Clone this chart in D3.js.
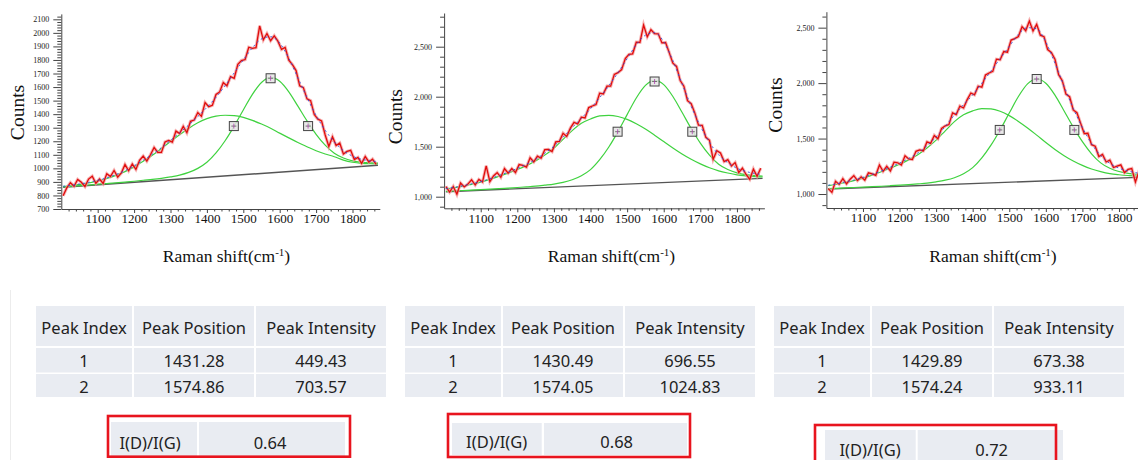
<!DOCTYPE html>
<html>
<head>
<meta charset="utf-8">
<script src="https://cdn.jsdelivr.net/npm/d3@7"></script>
<style>
body { margin: 0; background: #fff; }
svg { display: block; }
</style>
</head>
<body>
<svg id="fig" width="1138" height="460"></svg>
<script>
// ---- raw spectra (Raman shift, counts) ----
const ramanX = [1005,1015,1025,1035,1045,1055,1065,1075,1085,1095,1105,1115,1125,1135,1145,1155,1165,1175,1185,1195,
  1205,1215,1225,1235,1245,1255,1265,1275,1285,1295,1305,1315,1325,1335,1345,1355,1365,1375,1385,1395,
  1405,1415,1425,1435,1445,1455,1465,1475,1485,1495,1505,1515,1525,1535,1545,1555,1565,1575,1585,1595,
  1605,1615,1625,1635,1645,1655,1665,1675,1685,1695,1705,1715,1725,1735,1745,1755,1765,1775,1785,1795,
  1805,1815,1825,1835,1845,1855,1865];

const counts1 = [798,856,894,868,918,897,866,921,942,889,921,888,960,940,984,935,966,1028,982,1032,
  992,1059,1090,1053,1100,1154,1118,1118,1195,1206,1193,1275,1257,1310,1263,1347,1357,1412,1384,1486,
  1455,1465,1545,1564,1633,1609,1677,1665,1768,1796,1803,1894,1885,1891,2052,1948,1995,1942,1978,1939,
  1878,1893,1798,1765,1722,1609,1596,1513,1500,1397,1363,1350,1246,1162,1233,1168,1187,1106,1125,1133,
  1065,1081,1037,1087,1047,1068,1030];

const counts2 = [1102,1047,1102,1024,1136,1098,1126,1169,1118,1172,1147,1308,1150,1208,1241,1194,1282,1236,1281,1241,
  1322,1314,1295,1389,1348,1405,1385,1470,1473,1451,1548,1554,1635,1603,1686,1744,1727,1795,1788,1891,
  1907,1921,2035,2028,2106,2106,2223,2240,2271,2382,2423,2429,2545,2543,2716,2600,2670,2630,2629,2538,
  2542,2441,2335,2303,2161,2105,1960,1930,1836,1716,1714,1594,1564,1374,1459,1438,1352,1370,1308,1341,
  1243,1285,1222,1174,1276,1205,1285];

const counts3 = [1049,1015,1115,1087,1139,1092,1134,1166,1121,1155,1125,1191,1182,1169,1262,1205,1249,1208,1287,1282,
  1262,1344,1316,1311,1385,1398,1389,1470,1457,1528,1498,1592,1615,1626,1732,1716,1793,1776,1851,1911,
  1895,1972,1964,2073,2091,2106,2216,2211,2285,2279,2388,2401,2420,2509,2473,2560,2471,2530,2432,2419,
  2302,2276,2215,2076,2022,1901,1877,1758,1733,1639,1545,1548,1445,1431,1338,1357,1289,1306,1239,1252,
  1263,1193,1222,1230,1108,1208,1169];

// ---- fitted curves (cumulative fit, D band, G band) ----
const fitX = [1005,1025,1050,1075,1100,1125,1150,1175,1200,1225,1250,1275,1300,1325,1350,1375,1400,1425,
  1450,1475,1500,1525,1550,1575,1600,1625,1650,1675,1700,1725,1750,1775,1800,1825,1850,1870];

const fit1 = [868,874,885,896,912,930,954,983,1019,1060,1104,1153,1207,1262,1320,1382,1450,1525,
  1610,1705,1800,1890,1955,1972,1925,1813,1668,1523,1390,1281,1196,1131,1090,1067,1055,1049];
const peakD1 = [865,871,881,892,907,925,948,976,1011,1052,1096,1146,1198,1248,1295,1336,1367,1386,
  1392,1389,1376,1354,1327,1296,1260,1225,1191,1160,1130,1106,1086,1061,1045,1037,1034,1033];
const peakG1 = [863,867,873,877,883,888,893,899,905,912,918,926,937,950,970,1000,1045,1114,
  1204,1312,1431,1546,1634,1671,1643,1565,1459,1350,1251,1171,1111,1076,1055,1045,1041,1039];

const fit2 = [1082,1092,1109,1129,1151,1180,1212,1246,1284,1325,1373,1435,1505,1595,1690,1785,1880,1990,
  2110,2240,2380,2520,2615,2640,2550,2360,2130,1905,1707,1544,1419,1340,1285,1252,1232,1222];
const peakD2 = [1078,1088,1104,1124,1145,1173,1204,1236,1272,1311,1356,1416,1485,1573,1661,1734,1777,1809,
  1814,1802,1773,1729,1676,1615,1551,1487,1427,1374,1328,1289,1259,1237,1219,1208,1201,1198];
const peakG2 = [1054,1057,1062,1066,1071,1075,1080,1086,1092,1098,1105,1115,1126,1143,1169,1210,1271,1370,
  1497,1651,1821,1987,2113,2163,2121,2002,1844,1682,1536,1416,1325,1272,1238,1220,1211,1207];

const fit3 = [1079,1090,1108,1126,1150,1177,1208,1243,1279,1321,1370,1435,1514,1610,1712,1806,1894,1999,
  2108,2221,2331,2440,2500,2490,2370,2180,1970,1773,1599,1455,1346,1276,1233,1207,1190,1182];
const peakD3 = [1075,1086,1103,1121,1144,1171,1201,1234,1268,1308,1354,1415,1486,1570,1653,1714,1750,1770,
  1767,1746,1707,1655,1596,1531,1464,1402,1346,1298,1258,1226,1202,1184,1174,1167,1162,1161];
const peakG3 = [1049,1051,1056,1059,1063,1066,1070,1075,1080,1085,1091,1098,1110,1125,1147,1183,1238,1326,
  1441,1578,1730,1879,1993,2037,1999,1892,1749,1603,1472,1363,1281,1232,1203,1187,1178,1173];

// linear baselines (end points)
const baseX = [1005, 1870];
const base1 = [860, 1023];
const base2 = [1050, 1183];
const base3 = [1045, 1152];

// peak-picking markers on the G band
const markerX = [1474, 1575, 1678];
const markerY1 = [1312, 1665, 1312];
const markerY2 = [1650, 2152, 1650];
const markerY3 = [1578, 2037, 1578];

// ticks
const xTicks = [1100, 1200, 1300, 1400, 1500, 1600, 1700, 1800];
const yTicks1 = [700,800,900,1000,1100,1200,1300,1400,1500,1600,1700,1800,1900,2000,2100];
const yTicks2 = [1000, 1500, 2000, 2500];
const yTicks3 = [1000, 1500, 2000, 2500];

// ---- tables ----
const tableHead = ["Peak Index", "Peak Position", "Peak Intensity"];
const peakIndex = ["1", "2"];
const peakPos = [["1431.28", "1574.86"], ["1430.49", "1574.05"], ["1429.89", "1574.24"]];
const peakInt = [["449.43", "703.57"], ["696.55", "1024.83"], ["673.38", "933.11"]];
const ratioLabel = "I(D)/I(G)";
const ratioVal = ["0.64", "0.68", "0.72"];

const svg = d3.select("#fig");
const serif = "'Liberation Serif', 'Times New Roman', serif";
const sans = "'Noto Sans', 'Open Sans', sans-serif";

const panels = [
  {xr: [61.3, 379.8], yd: [700, 2140], yr: [209, 13.9], minorY: 20, fmt: d3.format("d"),
   counts: counts1, fit: fit1, d: peakD1, g: peakG1, base: base1, mY: markerY1, yTicks: yTicks1,
   countsAt: [17, 112.5], titleAt: [226.5, 262]},
  {xr: [444.1, 764.4], yd: [884, 2837], yr: [208.3, 13], minorY: 100, fmt: d3.format(","),
   counts: counts2, fit: fit2, d: peakD2, g: peakG2, base: base2, mY: markerY2, yTicks: yTicks2,
   countsAt: [395, 116.7], titleAt: [611.5, 262]},
  {xr: [826.4, 1146.4], yd: [874, 2644], yr: [208, 11.7], minorY: 100, fmt: d3.format(","),
   counts: counts3, fit: fit3, d: peakD3, g: peakG3, base: base3, mY: markerY3, yTicks: yTicks3,
   countsAt: [775, 105], titleAt: [993, 262]}
];

panels.forEach(function(p) {
  const x = d3.scaleLinear().domain([1000, 1875]).range(p.xr);
  const y = d3.scaleLinear().domain(p.yd).range(p.yr);
  const g = svg.append("g");

  // minor ticks
  const xMinor = d3.range(1020, 1875, 20).filter(v => v % 100 !== 0);
  g.append("g")
    .attr("transform", "translate(0," + p.yr[0] + ")")
    .call(d3.axisBottom(x).tickValues(xMinor).tickSize(2.5).tickFormat(""))
    .call(s => s.select(".domain").remove());
  const yMinor = d3.range(Math.ceil(p.yd[0] / p.minorY) * p.minorY, p.yd[1], p.minorY)
    .filter(v => p.yTicks.indexOf(v) < 0);
  g.append("g")
    .attr("transform", "translate(" + p.xr[0] + ",0)")
    .call(d3.axisLeft(y).tickValues(yMinor).tickSize(4).tickFormat(""))
    .call(s => s.select(".domain").remove());

  // major axes
  const xa = g.append("g")
    .attr("transform", "translate(0," + p.yr[0] + ")")
    .call(d3.axisBottom(x).tickValues(xTicks).tickSize(4).tickSizeOuter(0).tickPadding(1)
      .tickFormat(d3.format("d")));
  xa.selectAll("text").attr("font-family", serif).attr("font-size", 13).attr("fill", "#111");
  const ya = g.append("g")
    .attr("transform", "translate(" + p.xr[0] + ",0)")
    .call(d3.axisLeft(y).tickValues(p.yTicks).tickSize(8).tickSizeOuter(0).tickPadding(4).tickFormat(p.fmt));
  ya.selectAll("text").attr("font-family", serif).attr("font-size", 8).attr("fill", "#222");
  g.selectAll(".tick line").attr("stroke", "#444");
  g.selectAll(".domain").attr("stroke", "#444");

  // axis titles
  g.append("text")
    .attr("transform", "translate(" + p.countsAt[0] + "," + p.countsAt[1] + ") rotate(-90)")
    .attr("text-anchor", "middle").attr("dy", "0.35em")
    .attr("font-family", serif).attr("font-size", 19.5).attr("fill", "#111")
    .text("Counts");
  const t = g.append("text")
    .attr("x", p.titleAt[0]).attr("y", p.titleAt[1])
    .attr("text-anchor", "middle")
    .attr("font-family", serif).attr("font-size", 17.5).attr("fill", "#111");
  t.append("tspan").text("Raman shift(cm");
  t.append("tspan").attr("font-size", 11).attr("dy", -6).text("-1");
  t.append("tspan").attr("dy", 6).text(")");

  const smooth = d3.line().curve(d3.curveMonotoneX)
    .x((d, i) => x(fitX[i])).y(d => y(d));

  // baseline
  g.append("path")
    .datum(p.base)
    .attr("d", d3.line().x((d, i) => x(baseX[i])).y(d => y(d)))
    .attr("fill", "none").attr("stroke", "#555").attr("stroke-width", 1.4);

  // D and G bands
  [p.d, p.g].forEach(function(arr) {
    g.append("path").datum(arr).attr("d", smooth)
      .attr("fill", "none").attr("stroke", "#3fd23f").attr("stroke-width", 1.2);
  });

  // raw spectrum
  const raw = d3.line().x((d, i) => x(ramanX[i])).y(d => y(d));
  g.append("path").datum(p.counts).attr("d", raw)
    .attr("fill", "none").attr("stroke", "#f39a9a").attr("stroke-width", 3.2).attr("opacity", 0.75);
  g.append("path").datum(p.counts).attr("d", raw)
    .attr("fill", "none").attr("stroke", "#e00c0c").attr("stroke-width", 1.3);

  // cumulative fit
  g.append("path").datum(p.fit).attr("d", smooth)
    .attr("fill", "none").attr("stroke", "#2d4fe0").attr("stroke-width", 0.9)
    .attr("stroke-dasharray", "2,3");

  // markers
  const mk = g.selectAll(".mk").data(p.mY).enter().append("g")
    .attr("transform", (d, i) => "translate(" + x(markerX[i]) + "," + y(d) + ")");
  mk.append("rect").attr("x", -4.5).attr("y", -4.5).attr("width", 9).attr("height", 9)
    .attr("fill", "#e4e4e4").attr("fill-opacity", 0.85).attr("stroke", "#444").attr("stroke-width", 1);
  mk.append("line").attr("x1", -2.5).attr("x2", 2.5).attr("stroke", "#555").attr("stroke-width", 0.8);
  mk.append("line").attr("y1", -2.5).attr("y2", 2.5).attr("stroke", "#b040b0").attr("stroke-width", 0.8);
});

// ---- tables under each chart ----
const tableLeft = [36, 405, 774];
const colOff = [0, 98, 220];
const colW = [96, 120, 130];
const rowTop = [306, 348, 374];
const rowH = [40, 24.5, 23];
const rowText = [328.3, 361.2, 386.8];
const cellFill = "#e9ecf2";

tableLeft.forEach(function(left, t) {
  const rows = [tableHead,
    [peakIndex[0], peakPos[t][0], peakInt[t][0]],
    [peakIndex[1], peakPos[t][1], peakInt[t][1]]];
  rows.forEach(function(row, r) {
    row.forEach(function(txt, c) {
      svg.append("rect")
        .attr("x", left + colOff[c]).attr("y", rowTop[r])
        .attr("width", colW[c]).attr("height", rowH[r]).attr("fill", cellFill);
      svg.append("text")
        .attr("x", left + colOff[c] + colW[c] / 2).attr("y", rowText[r])
        .attr("dy", "0.36em").attr("text-anchor", "middle")
        .attr("font-family", sans).attr("font-size", 16.5).attr("fill", "#222")
        .text(txt);
    });
  });
});

// I(D)/I(G) boxes
const boxRect = [[108, 416, 242, 40.7], [448, 414, 242, 43], [815, 425, 241, 45]];
const boxCells = [
  [[111, 422, 86, 34.5], [199, 422, 146, 34.5]],
  [[452, 423, 89.7, 32], [544, 423, 143, 32]],
  [[825, 430, 90.7, 35], [917.7, 430, 145.3, 35]]
];
const boxText = [[[150, 442.7], [270, 442.7]], [[496.7, 442.3], [616.7, 442.3]], [[870, 450], [991.7, 450]]];

boxRect.forEach(function(b, i) {
  boxCells[i].forEach(function(c, j) {
    svg.append("rect").attr("x", c[0]).attr("y", c[1]).attr("width", c[2]).attr("height", c[3])
      .attr("fill", cellFill);
    svg.append("text")
      .attr("x", boxText[i][j][0]).attr("y", boxText[i][j][1])
      .attr("dy", "0.36em").attr("text-anchor", "middle")
      .attr("font-family", sans).attr("font-size", 16.5).attr("fill", "#222")
      .text(j === 0 ? ratioLabel : ratioVal[i]);
  });
  svg.append("rect").attr("x", b[0]).attr("y", b[1]).attr("width", b[2]).attr("height", b[3])
    .attr("fill", "none").attr("stroke", "#e8141e").attr("stroke-width", 2.6);
});

// faint page edge at the left of the table area
svg.append("line").attr("x1", 10.5).attr("x2", 10.5).attr("y1", 290).attr("y2", 460)
  .attr("stroke", "#ececec").attr("stroke-width", 1);
</script>
</body>
</html>
